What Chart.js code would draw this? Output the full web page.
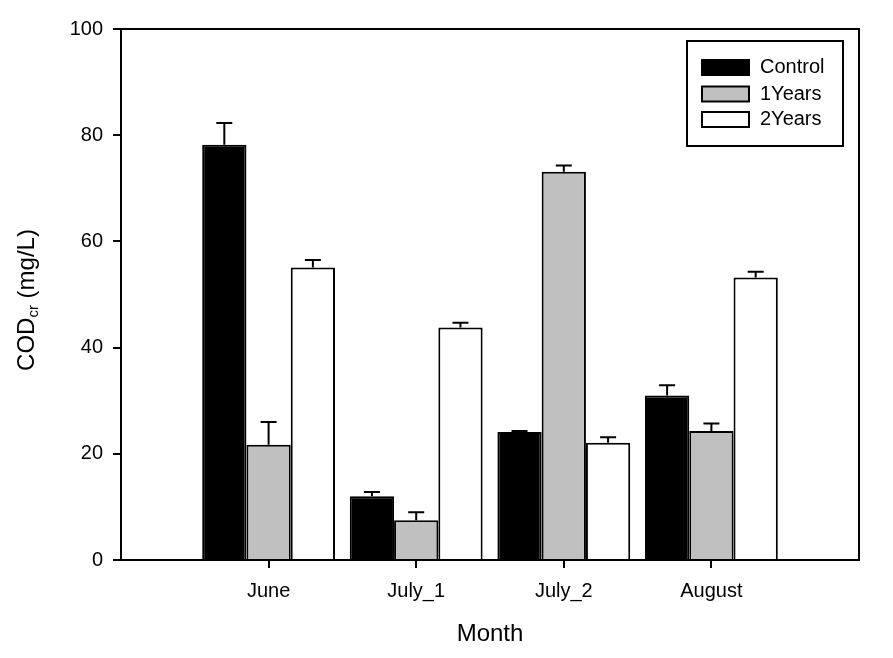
<!DOCTYPE html>
<html>
<head>
<meta charset="utf-8">
<script src="https://cdn.jsdelivr.net/npm/chart.js@4"></script>
<style>
  body { margin: 0; background: #fff; }
  #wrap { width: 893px; height: 658px; }
</style>
</head>
<body>
<div id="wrap"><canvas id="codChart" width="893" height="658"></canvas></div>
<script>
// data
const months = ["", "June", "July_1", "July_2", "August", ""];
const seriesNames = ["Control", "1Years", "2Years"];
const controlVals = [null, 78.2, 12.0, 24.1, 31.0, null];
const controlErr = [0, 4.1, 0.8, 0.2, 1.9, 0];
const year1Vals = [null, 21.7, 7.5, 73.1, 24.3, null];
const year1Err = [0, 4.3, 1.5, 1.2, 1.4, 0];
const year2Vals = [null, 55.1, 43.8, 22.1, 53.2, null];
const year2Err = [0, 1.4, 0.9, 1.0, 1.1, 0];
const yTicks = [0, 20, 40, 60, 80, 100];

const FONT = "'Liberation Sans', Arial, sans-serif";
const fills = ["#000000", "#c0c0c0", "#ffffff"];
const errors = [controlErr, year1Err, year2Err];

// error bars, frame, legend, titles
const extras = {
  id: "extras",
  afterDatasetsDraw(chart) {
    const ctx = chart.ctx;
    const y = chart.scales.y;
    ctx.save();
    ctx.strokeStyle = "#000";
    ctx.lineWidth = 2;
    chart.data.datasets.forEach((ds, i) => {
      const meta = chart.getDatasetMeta(i);
      meta.data.forEach((bar, j) => {
        const v = ds.data[j];
        if (v == null) return;
        const top = y.getPixelForValue(v + errors[i][j]);
        ctx.beginPath();
        ctx.moveTo(bar.x, bar.y);
        ctx.lineTo(bar.x, top);
        ctx.moveTo(bar.x - 8, top);
        ctx.lineTo(bar.x + 8, top);
        ctx.stroke();
      });
    });
    ctx.restore();
  },
  afterDraw(chart) {
    const ctx = chart.ctx;
    const a = chart.chartArea;
    ctx.save();
    ctx.strokeStyle = "#000";
    ctx.lineWidth = 2;
    ctx.strokeRect(a.left, a.top, a.right - a.left, a.bottom - a.top);

    // legend
    ctx.strokeRect(687, 41, 156, 105);
    const rows = [67.5, 94, 119.5];
    ctx.font = "20px " + FONT;
    ctx.textBaseline = "middle";
    ctx.textAlign = "left";
    seriesNames.forEach((name, i) => {
      ctx.fillStyle = fills[i];
      ctx.fillRect(702, rows[i] - 7.5, 47, 15);
      ctx.strokeRect(702, rows[i] - 7.5, 47, 15);
      ctx.fillStyle = "#000";
      ctx.fillText(name, 760, rows[i]);
    });

    // x title
    ctx.font = "24px " + FONT;
    ctx.textAlign = "center";
    ctx.textBaseline = "alphabetic";
    ctx.fillText("Month", (a.left + a.right) / 2, 641);

    // y title with subscript
    const big = "24px " + FONT, small = "15px " + FONT;
    ctx.font = big;
    const w1 = ctx.measureText("COD").width;
    const w3 = ctx.measureText(" (mg/L)").width;
    ctx.font = small;
    const w2 = ctx.measureText("cr").width;
    const total = w1 + w2 + w3;
    ctx.translate(34, 300);
    ctx.rotate(-Math.PI / 2);
    ctx.textAlign = "left";
    let x = -total / 2;
    ctx.font = big;
    ctx.fillText("COD", x, 0);
    x += w1;
    ctx.font = small;
    ctx.fillText("cr", x, 4);
    x += w2;
    ctx.font = big;
    ctx.fillText(" (mg/L)", x, 0);
    ctx.restore();
  }
};

new Chart(document.getElementById("codChart"), {
  type: "bar",
  data: {
    labels: months,
    datasets: [
      { label: seriesNames[0], data: controlVals, backgroundColor: fills[0] },
      { label: seriesNames[1], data: year1Vals, backgroundColor: fills[1] },
      { label: seriesNames[2], data: year2Vals, backgroundColor: fills[2] }
    ]
  },
  options: {
    responsive: false,
    animation: false,
    layout: { padding: { top: 29, right: 34, left: 0, bottom: 0 } },
    datasets: {
      bar: {
        borderColor: "#000",
        borderWidth: 2,
        borderSkipped: "start",
        categoryPercentage: 0.9,
        barPercentage: 1
      }
    },
    plugins: {
      legend: { display: false },
      tooltip: { enabled: false }
    },
    scales: {
      x: {
        offset: false,
        grid: {
          offset: false,
          drawOnChartArea: false,
          tickLength: 8,
          lineWidth: 2,
          color: c => (c.index === 0 || c.index === months.length - 1) ? "rgba(0,0,0,0)" : "#000"
        },
        border: { color: "#000", width: 2 },
        ticks: { color: "#000", font: { family: FONT, size: 20 }, padding: 11, maxRotation: 0, autoSkip: false },
        afterFit: s => { s.height = 98; }
      },
      y: {
        min: 0,
        max: 100,
        afterBuildTicks: s => { s.ticks = yTicks.map(v => ({ value: v })); },
        grid: { drawOnChartArea: false, tickLength: 8, lineWidth: 2, color: "#000" },
        border: { color: "#000", width: 2 },
        ticks: { color: "#000", font: { family: FONT, size: 20 }, padding: 10 },
        afterFit: s => { s.width = 121; }
      }
    }
  },
  plugins: [extras]
});
</script>
</body>
</html>
